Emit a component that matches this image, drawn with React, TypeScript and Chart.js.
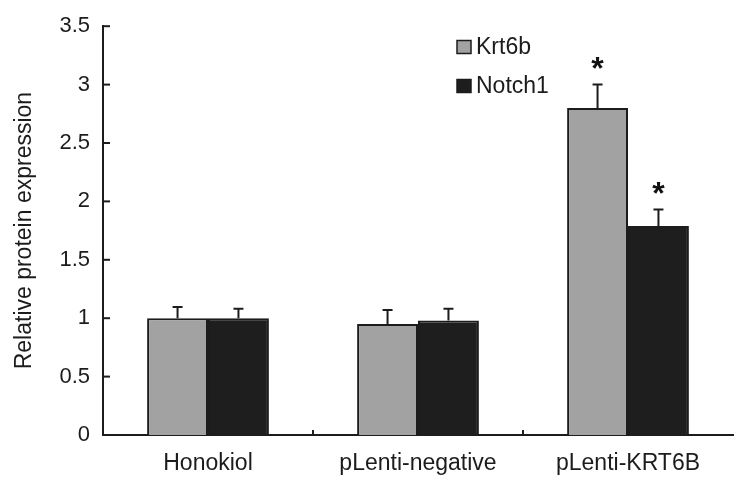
import React, { useEffect, useRef } from "react";
import { Chart, registerables } from "chart.js";

Chart.register(...registerables);

const categories = ["Honokiol", "pLenti-negative", "pLenti-KRT6B"];
const seriesNames = ["Krt6b", "Notch1"];
const krt6bValues = [1.0, 0.95, 2.8];
const notch1Values = [1.0, 0.98, 1.79];
const krt6bErrors = [0.095, 0.12, 0.2];
const notch1Errors = [0.08, 0.1, 0.14];
const krt6bSignificant = [false, false, true];
const notch1Significant = [false, false, true];
const yTickValues = [0, 0.5, 1, 1.5, 2, 2.5, 3, 3.5];
const yTitle = "Relative protein expression";

const GRAY = "#a2a2a2";
const BLACK = "#1e1e1e";
const INK = "#1c1c1c";
const FONT = "'Liberation Sans', Arial, sans-serif";

const errors = [krt6bErrors, notch1Errors];
const significance = [krt6bSignificant, notch1Significant];

const overlayPlugin = {
  id: "overlay",
  afterDatasetsDraw(chart: any) {
    const ctx = chart.ctx;
    const y = chart.scales.y;
    const x = chart.scales.x;
    const area = chart.chartArea;
    ctx.save();
    // inward tick marks
    ctx.strokeStyle = INK;
    ctx.lineWidth = 2;
    yTickValues.forEach((v) => {
      const py = y.getPixelForValue(v);
      ctx.beginPath();
      ctx.moveTo(area.left, py);
      ctx.lineTo(area.left + 7, py);
      ctx.stroke();
    });
    for (let i = 1; i < categories.length; i++) {
      const px = (x.getPixelForValue(i - 1) + x.getPixelForValue(i)) / 2;
      ctx.beginPath();
      ctx.moveTo(px, area.bottom);
      ctx.lineTo(px, area.bottom - 5);
      ctx.stroke();
    }
    // error bars and asterisks
    chart.data.datasets.forEach((ds: any, di: number) => {
      const meta = chart.getDatasetMeta(di);
      meta.data.forEach((bar: any, i: number) => {
        const v = ds.data[i];
        const top = y.getPixelForValue(v);
        const errTop = y.getPixelForValue(v + errors[di][i]);
        ctx.strokeStyle = INK;
        ctx.lineWidth = 2;
        ctx.beginPath();
        ctx.moveTo(bar.x, top);
        ctx.lineTo(bar.x, errTop);
        ctx.moveTo(bar.x - 5, errTop);
        ctx.lineTo(bar.x + 5, errTop);
        ctx.stroke();
        if (significance[di][i]) {
          ctx.fillStyle = "#111";
          ctx.font = `bold 32px ${FONT}`;
          ctx.textAlign = "center";
          ctx.textBaseline = "alphabetic";
          ctx.fillText("*", bar.x, errTop - 6);
        }
      });
    });
    // legend
    const lx = area.left + 354;
    const ly = [47, 86];
    chart.data.datasets.forEach((ds: any, di: number) => {
      ctx.fillStyle = ds.backgroundColor;
      ctx.strokeStyle = INK;
      ctx.lineWidth = 1.5;
      ctx.fillRect(lx, ly[di] - 6.5, 14, 13);
      ctx.strokeRect(lx, ly[di] - 6.5, 14, 13);
      ctx.fillStyle = INK;
      ctx.font = `23px ${FONT}`;
      ctx.textAlign = "left";
      ctx.textBaseline = "middle";
      ctx.fillText(ds.label, lx + 19, ly[di] + 1);
    });
    ctx.restore();
  },
};

export default function App() {
  const ref = useRef<HTMLCanvasElement | null>(null);
  useEffect(() => {
    document.body.style.margin = "0";
    if (!ref.current) return;
    const chart = new Chart(ref.current, {
      type: "bar",
      data: {
        labels: categories,
        datasets: [
          {
            label: seriesNames[0],
            data: krt6bValues,
            backgroundColor: GRAY,
            borderColor: INK,
            borderWidth: 2,
            barPercentage: 1,
            categoryPercentage: 0.58,
          },
          {
            label: seriesNames[1],
            data: notch1Values,
            backgroundColor: BLACK,
            borderColor: INK,
            borderWidth: 2,
            barPercentage: 1,
            categoryPercentage: 0.58,
          },
        ],
      },
      options: {
        responsive: false,
        animation: false,
        layout: { padding: { top: 20, right: 7, bottom: 0, left: 0 } },
        plugins: { legend: { display: false }, tooltip: { enabled: false } },
        scales: {
          x: {
            grid: { display: false, drawTicks: false },
            border: { display: true, color: INK, width: 2 },
            ticks: {
              color: INK,
              padding: 15,
              font: { family: FONT, size: 23 },
            },
            afterFit(scale: any) {
              scale.height = 43;
            },
          },
          y: {
            min: 0,
            max: 3.5,
            afterBuildTicks(scale: any) {
              scale.ticks = yTickValues.map((v) => ({ value: v }));
            },
            grid: { display: false, drawTicks: false },
            border: { display: true, color: INK, width: 2 },
            ticks: {
              color: INK,
              padding: 13,
              font: { family: FONT, size: 22 },
              callback: (v: any) => String(v),
            },
            title: {
              display: true,
              text: yTitle,
              color: INK,
              padding: { top: 11, bottom: 0 },
              font: { family: FONT, size: 23 },
            },
            afterFit(scale: any) {
              scale.width = 103;
            },
          },
        },
      },
      plugins: [overlayPlugin],
    });
    return () => chart.destroy();
  }, []);
  return (
    <div style={{ width: 740, height: 478, background: "#fff" }}>
      <canvas ref={ref} width={740} height={478} />
    </div>
  );
}
